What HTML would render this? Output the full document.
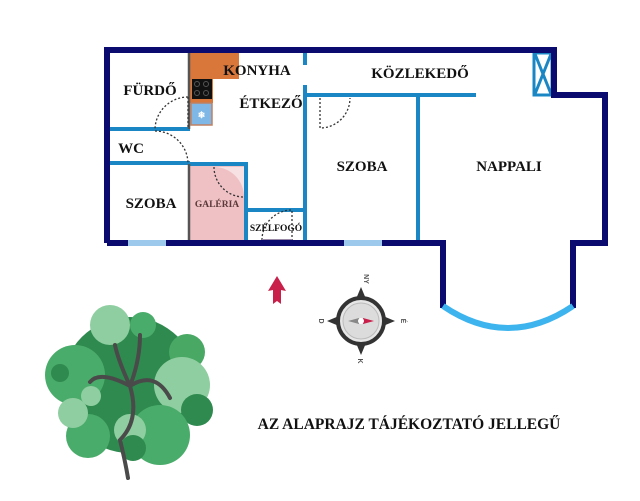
<!DOCTYPE html>
<html><head><style>body{margin:0;background:#fff}svg{display:block}</style></head><body>
<svg width="640" height="501" viewBox="0 0 640 501" xmlns="http://www.w3.org/2000/svg" font-family="Liberation Serif, serif" font-weight="bold">
<rect width="640" height="501" fill="#fff"/>
<!-- kitchen -->
<rect x="189" y="53" width="50" height="26" fill="#d9773a"/>
<rect x="189" y="53" width="24" height="50" fill="#d9773a"/>
<rect x="192" y="79" width="20" height="20" fill="#111"/>
<g fill="none" stroke="#555" stroke-width="1"><circle cx="197" cy="84" r="2.5"/><circle cx="206" cy="84" r="2.5"/><circle cx="197" cy="93" r="2.5"/><circle cx="206" cy="93" r="2.5"/></g>
<rect x="191" y="103" width="21" height="22" fill="#7fb8e6" stroke="#c08060" stroke-width="1.5"/>
<text x="201.5" y="118" font-size="9" fill="#fff" text-anchor="middle">❄</text>
<!-- galéria -->
<rect x="190" y="165" width="56" height="76" fill="#efc1c4"/>
<path d="M214 167 L244 167 L244 197 A30 30 0 0 0 214 167Z" fill="#f7e1e2"/>
<!-- interior walls -->
<g stroke="#1a87c4" stroke-width="4" fill="none">
<line x1="110" y1="129" x2="190" y2="129"/>
<line x1="110" y1="163" x2="190" y2="163"/>
<line x1="188" y1="164" x2="248" y2="164"/>
<line x1="246" y1="162" x2="246" y2="240"/>
<line x1="246" y1="210" x2="306" y2="210"/>
<line x1="305" y1="53" x2="305" y2="65"/>
<line x1="305" y1="85" x2="305" y2="240"/>
<line x1="305" y1="95" x2="476" y2="95"/>
<line x1="418" y1="95" x2="418" y2="240"/>
<rect x="534" y="53" width="18" height="42" stroke-width="3"/>
<line x1="535" y1="54" x2="551" y2="94" stroke-width="3"/>
<line x1="551" y1="54" x2="535" y2="94" stroke-width="3"/>
</g>
<g stroke="#555" stroke-width="2.5">
<line x1="189" y1="53" x2="189" y2="129"/>
<line x1="189" y1="164" x2="189" y2="240"/>
</g>
<!-- doors -->
<g fill="none" stroke="#333" stroke-width="1.3" stroke-dasharray="2,2">
<path d="M188 97 A33 33 0 0 0 155 129"/><line x1="188" y1="97" x2="188" y2="129"/>
<path d="M155 131 A33 33 0 0 1 188 163"/>
<path d="M214 167 A30 30 0 0 0 244 197"/>
<path d="M320 98 L320 128 A30 30 0 0 0 350 98"/>
<path d="M262 240 A30 30 0 0 1 292 210 L292 240"/>
</g>
<rect x="262" y="239" width="30" height="4" fill="#9a8aa8"/>
<!-- outer walls -->
<g fill="none" stroke="#0b0b6f" stroke-width="6" stroke-linejoin="miter">
<path d="M107 243 L107 50 L554 50 L554 95 L605 95 L605 243 L573 243 L573 308"/>
<path d="M107 243 L443 243 L443 308"/>
</g>
<path d="M443 306 Q508 350 573 306" fill="none" stroke="#3db4ee" stroke-width="6"/>
<rect x="128" y="240" width="38" height="6" fill="#9cc9ec"/>
<rect x="344" y="240" width="38" height="6" fill="#9cc9ec"/>
<!-- labels -->
<g font-size="15" fill="#111" text-anchor="middle">
<text x="150" y="95">FÜRDŐ</text>
<text x="257" y="75">KONYHA</text>
<text x="271" y="108">ÉTKEZŐ</text>
<text x="420" y="78">KÖZLEKEDŐ</text>
<text x="131" y="153">WC</text>
<text x="151" y="208">SZOBA</text>
<text x="362" y="171">SZOBA</text>
<text x="509" y="171">NAPPALI</text>
<text x="217" y="207" font-size="9.5" fill="#5a3a3a">GALÉRIA</text>
<text x="276" y="231" font-size="9.5">SZÉLFOGÓ</text>
<text x="409" y="429" font-size="15.5">AZ ALAPRAJZ TÁJÉKOZTATÓ JELLEGŰ</text>
</g>
<!-- arrow -->
<path d="M277 276 L286 291 L281 290 L281 304 L277 301 L273 304 L273 290 L268 291Z" fill="#c8204a"/>
<!-- compass -->
<g transform="translate(361,321)">
<path d="M0 -34 L5 -22 L-5 -22Z M0 34 L5 22 L-5 22Z M-34 0 L-22 5 L-22 -5Z M34 0 L22 5 L22 -5Z" fill="#333"/>
<circle r="23" fill="#e6e6e6" stroke="#333" stroke-width="4"/>
<circle r="18" fill="#dcdcdc" stroke="#bbb"/>
<path d="M-13 0 L-2 -3 L-2 3Z" fill="#888"/>
<path d="M13 0 L2 -3 L2 3Z" fill="#c8204a"/>
<circle r="3" fill="#fff"/>
<g font-family="Liberation Sans, sans-serif" font-size="7" fill="#555" text-anchor="middle">
<text transform="translate(3,-42) rotate(90)">NY</text>
<text transform="translate(-42,0) rotate(90)">D</text>
<text transform="translate(40,0) rotate(90)">É</text>
<text transform="translate(-3,40) rotate(90)">K</text>
</g>
</g>
<!-- tree -->
<g>
<circle cx="130" cy="385" r="68" fill="#2f8a4f"/>
<circle cx="110" cy="325" r="20" fill="#8fcea0"/>
<circle cx="143" cy="325" r="13" fill="#4aac6a"/>
<circle cx="187" cy="352" r="18" fill="#49a864"/>
<circle cx="75" cy="375" r="30" fill="#4aac6a"/>
<circle cx="60" cy="373" r="9" fill="#2f8a4f"/>
<circle cx="182" cy="385" r="28" fill="#8fcea0"/>
<circle cx="197" cy="410" r="16" fill="#2f8a4f"/>
<circle cx="91" cy="396" r="10" fill="#8fcea0"/>
<circle cx="88" cy="436" r="22" fill="#4aac6a"/>
<circle cx="73" cy="413" r="15" fill="#8fcea0"/>
<circle cx="160" cy="435" r="30" fill="#4aac6a"/>
<circle cx="130" cy="430" r="16" fill="#8fcea0"/>
<circle cx="133" cy="448" r="13" fill="#2f8a4f"/>
<path d="M130 386 Q118 360 115 345 M130 386 Q140 360 140 335 M130 386 Q100 370 90 382 M130 386 Q155 370 170 398 M130 386 Q140 420 120 440 Q125 460 128 478" fill="none" stroke="#4a4a4a" stroke-width="4" stroke-linecap="round"/>
</g>
</svg>
</body></html>
